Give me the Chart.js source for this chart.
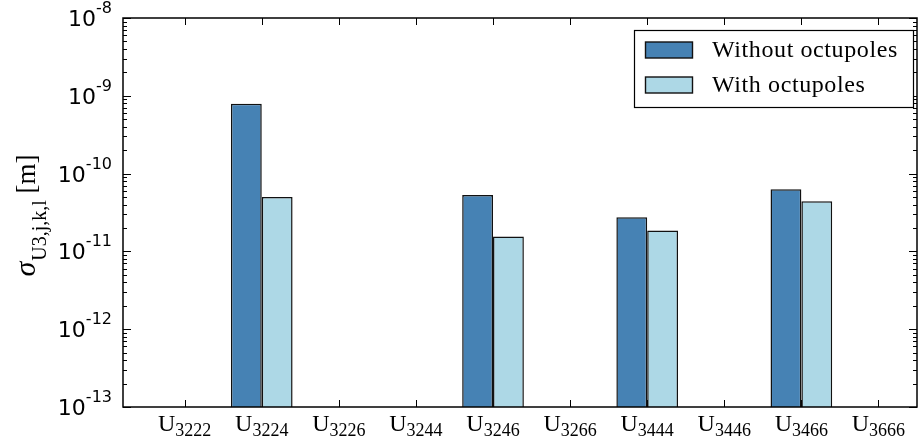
<!DOCTYPE html>
<html>
<head>
<meta charset="utf-8">
<script src="https://cdn.jsdelivr.net/npm/chart.js@4.4.1/dist/chart.umd.min.js"></script>
<style>
  html, body { margin: 0; padding: 0; background: #fff; }
  #wrap { width: 919px; height: 445px; }
</style>
</head>
<body>
<div id="wrap"><canvas id="myChart"></canvas></div>
<script>
// categories (subscripts of U) and the two series
const categories = ["3222", "3224", "3226", "3244", "3246", "3266", "3444", "3446", "3466", "3666"];
const withoutOctupoles = [null, 7.9e-10, null, null, 5.3e-11, null, 2.75e-11, null, 6.3e-11, null];
const withOctupoles = [null, 5.0e-11, null, null, 1.55e-11, null, 1.85e-11, null, 4.4e-11, null];
const yExponents = [-13, -12, -11, -10, -9, -8];
const seriesNames = ["Without octupoles", "With octupoles"];

const darkBlue = "#4682b4";
const lightBlue = "#add8e6";

function toPoints(values) {
  return values.map((v, i) => ({ x: i, y: v }));
}

// ticks, frame, labels and legend drawn by hand (matplotlib style)
const decor = {
  id: "decor",
  beforeDatasetsDraw(chart) {
    const ctx = chart.ctx;
    const area = chart.chartArea;
    const xs = chart.scales.x;
    const ys = chart.scales.y;
    ctx.save();
    ctx.strokeStyle = "#000";
    ctx.lineWidth = 1;
    // y ticks, major and minor, both sides
    yExponents.forEach((e) => {
      const y = Math.round(ys.getPixelForValue(Math.pow(10, e))) + 0.5;
      ctx.beginPath();
      ctx.moveTo(area.left, y); ctx.lineTo(area.left + 8, y);
      ctx.moveTo(area.right, y); ctx.lineTo(area.right - 8, y);
      ctx.stroke();
      if (e < yExponents[yExponents.length - 1]) {
        for (let k = 2; k < 10; k++) {
          const ym = Math.round(ys.getPixelForValue(k * Math.pow(10, e))) + 0.5;
          ctx.beginPath();
          ctx.moveTo(area.left, ym); ctx.lineTo(area.left + 4, ym);
          ctx.moveTo(area.right, ym); ctx.lineTo(area.right - 4, ym);
          ctx.stroke();
        }
      }
    });
    // x ticks, bottom and top
    categories.forEach((c, i) => {
      const x = Math.round(xs.getPixelForValue(i)) + 0.5;
      ctx.beginPath();
      ctx.moveTo(x, area.bottom); ctx.lineTo(x, area.bottom - 7);
      ctx.moveTo(x, area.top); ctx.lineTo(x, area.top + 7);
      ctx.stroke();
    });
    ctx.restore();
  },
  afterDraw(chart) {
    const ctx = chart.ctx;
    const area = chart.chartArea;
    const xs = chart.scales.x;
    const ys = chart.scales.y;
    ctx.save();

    // frame
    ctx.strokeStyle = "#000";
    ctx.lineWidth = 1.5;
    ctx.strokeRect(area.left, area.top, area.right - area.left, area.bottom - area.top);

    // y tick labels 10^e
    ctx.fillStyle = "#000";
    ctx.textBaseline = "alphabetic";
    ctx.textAlign = "left";
    yExponents.forEach((e) => {
      const y = ys.getPixelForValue(Math.pow(10, e));
      const base = "10";
      const exp = "-" + Math.abs(e);
      ctx.font = "22px 'DejaVu Sans'";
      const w1 = ctx.measureText(base).width;
      ctx.font = "16px 'DejaVu Sans'";
      const w2 = ctx.measureText(exp).width;
      const xr = area.left - 11;
      ctx.fillText(exp, xr - w2, y - 5);
      ctx.font = "22px 'DejaVu Sans'";
      ctx.fillText(base, xr - w2 - w1, y + 8);
    });

    // x tick labels U_{nnnn}
    categories.forEach((c, i) => {
      const x = xs.getPixelForValue(i);
      ctx.font = "24px 'Liberation Serif'";
      const wU = ctx.measureText("U").width;
      ctx.font = "18px 'Liberation Serif'";
      const wS = ctx.measureText(c).width;
      const x0 = x - (wU + wS) / 2;
      ctx.font = "24px 'Liberation Serif'";
      ctx.fillText("U", x0, area.bottom + 24);
      ctx.font = "18px 'Liberation Serif'";
      ctx.fillText(c, x0 + wU, area.bottom + 29);
    });

    // y axis title: sigma_{U3,j,k,l} [m]
    ctx.save();
    ctx.translate(0, 216);
    ctx.rotate(-Math.PI / 2);
    ctx.font = "italic 30px 'Liberation Serif'";
    const wSig = ctx.measureText("σ").width;
    ctx.font = "20px 'Liberation Serif'";
    const sub = "U3,j,k,l";
    const wSub = ctx.measureText(sub).width;
    ctx.font = "27px 'Liberation Serif'";
    const unit = " [m]";
    const wUnit = ctx.measureText(unit).width;
    let tx = -(wSig + wSub + wUnit) / 2;
    ctx.font = "italic 30px 'Liberation Serif'";
    ctx.fillText("σ", tx, 35);
    tx += wSig + 1;
    ctx.font = "20px 'Liberation Serif'";
    ctx.fillText(sub, tx, 46);
    tx += wSub;
    ctx.font = "27px 'Liberation Serif'";
    ctx.fillText(unit, tx, 35);
    ctx.restore();

    // legend box
    const lx = 634.5, ly = 30.5, lw = 279, lh = 77;
    ctx.fillStyle = "#fff";
    ctx.fillRect(lx, ly, lw, lh);
    ctx.strokeStyle = "#000";
    ctx.lineWidth = 1.2;
    ctx.strokeRect(lx, ly, lw, lh);
    chart.data.datasets.forEach((ds, i) => {
      const ry = 50 + i * 35;
      ctx.fillStyle = ds.backgroundColor;
      ctx.fillRect(645.5, ry - 8, 47, 16);
      ctx.strokeStyle = "#111";
      ctx.lineWidth = 1.4;
      ctx.strokeRect(645.5, ry - 8, 47, 16);
      ctx.fillStyle = "#000";
      ctx.font = "24px 'Liberation Serif'";
      ctx.letterSpacing = "0.6px";
      ctx.textBaseline = "middle";
      ctx.fillText(ds.label, 712, ry + 1);
      ctx.textBaseline = "alphabetic";
      ctx.letterSpacing = "0px";
    });

    ctx.restore();
  }
};

new Chart(document.getElementById("myChart").getContext("2d"), {
  type: "bar",
  data: {
    datasets: [
      {
        label: seriesNames[0],
        data: toPoints(withoutOctupoles),
        backgroundColor: darkBlue,
        borderColor: "#111",
        borderWidth: 1.5,
        categoryPercentage: 0.8,
        barPercentage: 1.0,
      },
      {
        label: seriesNames[1],
        data: toPoints(withOctupoles),
        backgroundColor: lightBlue,
        borderColor: "#111",
        borderWidth: 1.5,
        categoryPercentage: 0.8,
        barPercentage: 1.0,
      },
    ],
  },
  options: {
    responsive: true,
    maintainAspectRatio: false,
    animation: false,
    layout: { padding: { left: 123, right: 2, top: 18, bottom: 38 } },
    plugins: { legend: { display: false }, tooltip: { enabled: false } },
    scales: {
      x: {
        type: "linear",
        display: false,
        offset: false,
        grid: { offset: false },
        min: -0.8,
        max: 9.5,
        afterBuildTicks: (scale) => {
          scale.ticks = categories.map((c, i) => ({ value: i }));
        },
      },
      y: {
        type: "logarithmic",
        display: false,
        min: 1e-13,
        max: 1e-8,
      },
    },
  },
  plugins: [decor],
});
</script>
</body>
</html>
